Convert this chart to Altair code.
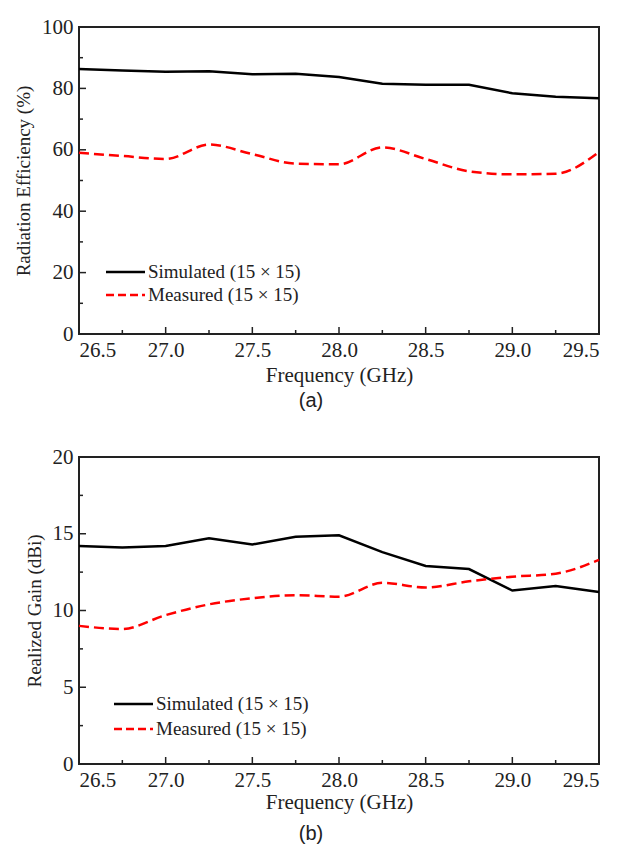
import altair as alt
import pandas as pd

freq = [26.5, 26.75, 27.0, 27.25, 27.5, 27.75, 28.0, 28.25, 28.5, 28.75, 29.0, 29.25, 29.5]
eff_sim = [86.3, 85.8, 85.4, 85.6, 84.6, 84.8, 83.7, 81.5, 81.2, 81.2, 78.4, 77.3, 76.8]
eff_meas = [59.0, 58.0, 57.0, 61.7, 58.6, 55.5, 55.3, 60.8, 57.0, 53.0, 52.0, 52.2, 59.3]
gain_sim = [14.2, 14.1, 14.2, 14.7, 14.3, 14.8, 14.9, 13.8, 12.9, 12.7, 11.3, 11.6, 11.2]
gain_meas = [9.0, 8.8, 9.7, 10.4, 10.8, 11.0, 10.9, 11.8, 11.5, 11.9, 12.2, 12.4, 13.3]

series_names = ["Simulated (15 × 15)", "Measured (15 × 15)"]
x_major = [26.5, 27.0, 27.5, 28.0, 28.5, 29.0, 29.5]
x_minor = [26.75, 27.25, 27.75, 28.25, 28.75, 29.25]
eff_major = [0, 20, 40, 60, 80, 100]
eff_minor = [10, 30, 50, 70, 90]
gain_major = [0, 5, 10, 15, 20]
gain_minor = [2.5, 7.5, 12.5, 17.5]

W, H = 520, 307
FONT = "Liberation Serif"
INK = "#222"


def panel(sim, meas, ytitle, ydom, ymaj, ymin, caption, leg_x, leg_y, title_pad, cap_off):
    df_sim = pd.DataFrame({"f": freq, "v": sim})
    df_meas = pd.DataFrame({"f": freq, "v": meas})
    xs = alt.Scale(domain=[26.5, 29.5], nice=False, zero=False)
    ys = alt.Scale(domain=ydom, nice=False)
    xenc = alt.X("f:Q", scale=xs, axis=alt.Axis(title="Frequency (GHz)", values=x_major, format=".1f",
                                                 ticks=False, grid=False, labelPadding=5,
                                                 labelFont=FONT, labelFontSize=21, labelColor=INK,
                                                 titleFont=FONT, titleFontSize=21, titleFontWeight="normal",
                                                 titleColor=INK, titlePadding=title_pad, domain=False))
    yenc = alt.Y("v:Q", scale=ys, axis=alt.Axis(title=ytitle, values=ymaj, ticks=False, grid=False,
                                                 labelPadding=6, labelFont=FONT, labelFontSize=21,
                                                 labelColor=INK, titleFont=FONT, titleFontSize=19,
                                                 titleFontWeight="normal", titleColor=INK,
                                                 titlePadding=8, domain=False))
    l_sim = alt.Chart(df_sim).mark_line(strokeWidth=2.5, color="black").encode(x=xenc, y=yenc)
    l_meas = alt.Chart(df_meas).mark_line(strokeWidth=2.5, color="red", strokeDash=[10, 5],
                                          interpolate="monotone").encode(x=xenc, y=yenc)

    xticks_maj = alt.Chart(pd.DataFrame({"t": x_major})).mark_rule(color=INK, strokeWidth=1.5).encode(
        x=alt.X("t:Q", scale=xs), y=alt.value(H), y2=alt.value(H - 7))
    xticks_min = alt.Chart(pd.DataFrame({"t": x_minor})).mark_rule(color=INK, strokeWidth=1.5).encode(
        x=alt.X("t:Q", scale=xs), y=alt.value(H), y2=alt.value(H - 4))
    yticks_maj = alt.Chart(pd.DataFrame({"t": ymaj})).mark_rule(color=INK, strokeWidth=1.5).encode(
        y=alt.Y("t:Q", scale=ys), x=alt.value(0), x2=alt.value(7))
    yticks_min = alt.Chart(pd.DataFrame({"t": ymin})).mark_rule(color=INK, strokeWidth=1.5).encode(
        y=alt.Y("t:Q", scale=ys), x=alt.value(0), x2=alt.value(4))

    # legend drawn inside the plot
    base = alt.Chart(pd.DataFrame({"s": [0]}))
    leg_sim = base.mark_rule(color="black", strokeWidth=2.5).encode(
        x=alt.value(leg_x), x2=alt.value(leg_x + 39), y=alt.value(leg_y[0]))
    leg_meas = base.mark_rule(color="red", strokeWidth=2.5, strokeDash=[8, 4]).encode(
        x=alt.value(leg_x), x2=alt.value(leg_x + 39), y=alt.value(leg_y[1]))
    txt_sim = base.mark_text(font=FONT, fontSize=19, color=INK, align="left", baseline="middle").encode(
        x=alt.value(leg_x + 42), y=alt.value(leg_y[0]), text=alt.value(series_names[0]))
    txt_meas = base.mark_text(font=FONT, fontSize=19, color=INK, align="left", baseline="middle").encode(
        x=alt.value(leg_x + 42), y=alt.value(leg_y[1]), text=alt.value(series_names[1]))

    return alt.layer(l_sim, l_meas, xticks_maj, xticks_min, yticks_maj, yticks_min,
                     leg_sim, leg_meas, txt_sim, txt_meas).properties(
        width=W, height=H,
        title=alt.TitleParams(caption, orient="bottom", anchor="middle", dx=-28, offset=cap_off,
                              font="Liberation Sans", fontSize=20, fontWeight="normal", color=INK))


top = panel(eff_sim, eff_meas, "Radiation Efficiency (%)", [0, 100], eff_major, eff_minor, "(a)",
            27, [245, 268], 4, 6)
bot = panel(gain_sim, gain_meas, "Realized Gain (dBi)", [0, 20], gain_major, gain_minor, "(b)",
            35, [247, 272], 1, 12)

chart = alt.vconcat(top, bot, spacing=33).configure_view(
    stroke=INK, strokeWidth=2).properties(padding={"left": 5, "top": 7, "right": 5, "bottom": 0})

chart.save("out.html", embed_options={"renderer": "svg", "actions": False})
